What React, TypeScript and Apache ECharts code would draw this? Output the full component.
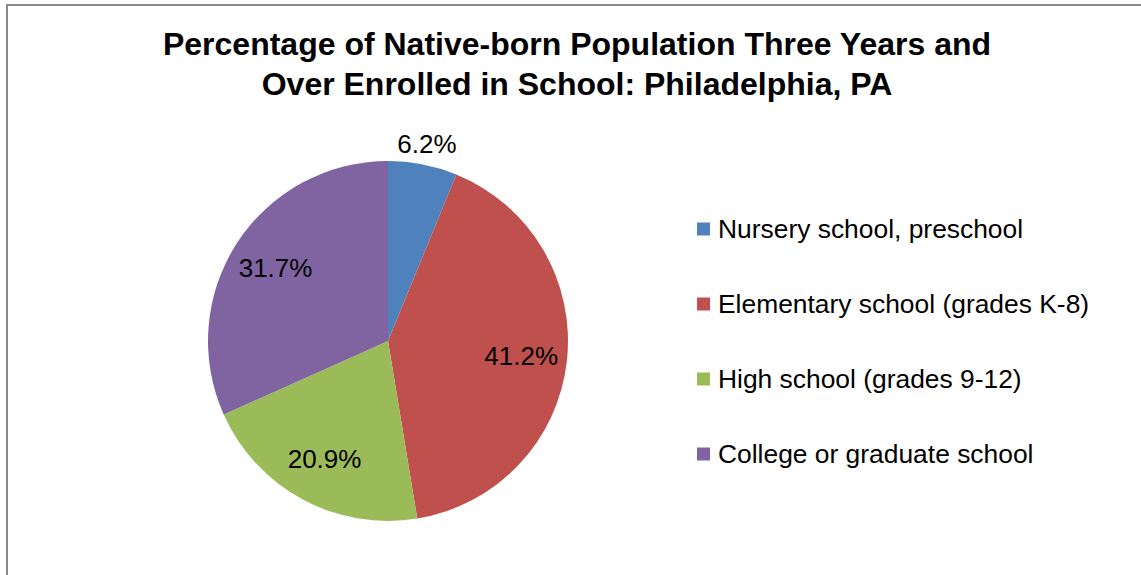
import React, { useEffect, useRef } from "react";
import * as echarts from "echarts";

const titleLines = [
  "Percentage of Native-born Population Three Years and",
  "Over Enrolled in School: Philadelphia, PA",
];
const categories = [
  "Nursery school, preschool",
  "Elementary school (grades K-8)",
  "High school (grades 9-12)",
  "College or graduate school",
];
const values = [6.2, 41.2, 20.9, 31.7];
const colors = ["#4F81BD", "#C0504D", "#9BBB59", "#8064A2"];
// which labels sit outside the pie (Excel "best fit")
const outsideLabel = [true, false, false, false];

const FONT = "'Liberation Sans', Arial, Helvetica, sans-serif";

export default function App() {
  const ref = useRef<HTMLDivElement>(null);
  useEffect(() => {
    if (!ref.current) return;
    const chart = echarts.init(ref.current, undefined, { renderer: "svg" });
    const center = [388, 341];
    const labelStyle = {
      color: "#000",
      fontSize: 26,
      fontFamily: FONT,
      formatter: (p: any) => p.value.toFixed(1) + "%",
    };
    const mainData = categories.map((name, i) => ({
      name,
      value: values[i],
      itemStyle: { color: colors[i] },
    }));
    const labelData = (outside: boolean) =>
      categories.map((name, i) => ({
        name,
        value: values[i],
        itemStyle: { color: "rgba(0,0,0,0)" },
        label: { show: outsideLabel[i] === outside },
      }));
    chart.setOption({
      animation: false,
      backgroundColor: "#fff",
      title: {
        text: titleLines.join("\n"),
        left: 577,
        textAlign: "center",
        top: 24,
        padding: 0,
        textStyle: {
          fontFamily: FONT,
          fontWeight: "bold",
          fontSize: 32,
          lineHeight: 40,
          color: "#000",
        },
      },
      legend: {
        orient: "vertical",
        left: 697,
        top: 216,
        padding: 0,
        itemWidth: 13,
        itemHeight: 13,
        itemGap: 49,
        icon: "rect",
        selectedMode: false,
        data: categories,
        textStyle: {
          fontFamily: FONT,
          fontSize: 26.4,
          lineHeight: 26,
          color: "#000",
          padding: [0, 0, 0, 3],
        },
      },
      graphic: [
        {
          type: "rect",
          shape: { x: 7, y: 5, width: 3000, height: 3000 },
          style: { fill: "none", stroke: "#898989", lineWidth: 2 },
          silent: true,
          z: 100,
        },
      ],
      series: [
        {
          type: "pie",
          center,
          radius: 180,
          startAngle: 90,
          clockwise: true,
          label: { show: false },
          labelLine: { show: false },
          emphasis: { disabled: true },
          data: mainData,
        },
        {
          type: "pie",
          center,
          radius: 262,
          startAngle: 90,
          silent: true,
          legendHoverLink: false,
          label: { position: "inside", ...labelStyle },
          labelLine: { show: false },
          emphasis: { disabled: true },
          data: labelData(false),
          z: 3,
        },
        {
          type: "pie",
          center,
          radius: 396,
          startAngle: 90,
          silent: true,
          legendHoverLink: false,
          label: { position: "inside", ...labelStyle },
          labelLine: { show: false },
          emphasis: { disabled: true },
          data: labelData(true),
          z: 3,
        },
      ],
    });
    return () => chart.dispose();
  }, []);
  return (
    <div
      ref={ref}
      style={{ position: "fixed", left: 0, top: 0, width: 1141, height: 575 }}
    />
  );
}
